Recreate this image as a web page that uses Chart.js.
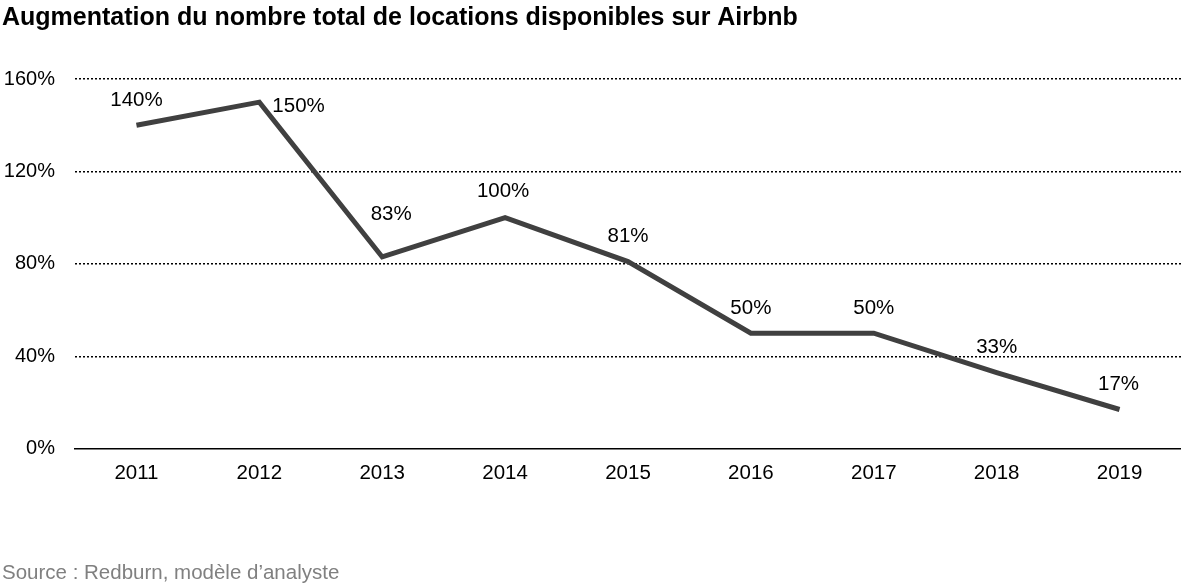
<!DOCTYPE html>
<html>
<head>
<meta charset="utf-8">
<script src="https://cdn.jsdelivr.net/npm/chart.js@4"></script>
<style>
    html, body { margin: 0; padding: 0; background: #fff; }
    #wrap { width: 1181px; height: 586px; }
</style>
</head>
<body>
<div id="wrap"><canvas id="myChart" width="1181" height="586"></canvas></div>
<script>
const years = ['2011', '2012', '2013', '2014', '2015', '2016', '2017', '2018', '2019']
const growth = [140, 150, 83, 100, 81, 50, 50, 33, 17]
const yTicks = [0, 40, 80, 120, 160]
const titleText = 'Augmentation du nombre total de locations disponibles sur Airbnb'
const sourceText = 'Source : Redburn, modèle d’analyste'

// where each value label sits relative to its point: [dx, dy, align]
const labelPlace = [
    [0, -25, 'center'],
    [13, 4, 'left'],
    [9, -43, 'center'],
    [-2, -26, 'center'],
    [0, -25, 'center'],
    [0, -25, 'center'],
    [0, -25, 'center'],
    [0, -25, 'center'],
    [-1, -25, 'center'],
]

const font = "'Liberation Sans', Arial, sans-serif"
const ctx = document.getElementById('myChart')

const valueLabels = {
    id: 'valueLabels',
    afterDatasetsDraw(chart) {
        const c = chart.ctx
        const meta = chart.getDatasetMeta(0)
        c.save()
        c.font = `20.5px ${font}`
        c.fillStyle = '#000'
        c.textBaseline = 'middle'
        meta.data.forEach((pt, i) => {
            const p = labelPlace[i]
            c.textAlign = p[2]
            c.fillText(growth[i] + '%', pt.x + p[0], pt.y + p[1])
        })
        c.restore()
    }
}

const config = {
    type: 'line',
    data: {
        labels: years,
        datasets: [
            {
                label: 'Croissance',
                data: growth,
                borderColor: '#404040',
                borderWidth: 5,
                pointRadius: 0,
                tension: 0,
                fill: false,
            },
        ],
    },
    options: {
        responsive: false,
        animation: false,
        layout: { padding: { left: 2, right: 0, top: 0, bottom: 0 } },
        plugins: {
            legend: { display: false },
            tooltip: { enabled: false },
            title: {
                display: true,
                text: titleText,
                align: 'start',
                color: '#000',
                font: { family: font, size: 25, weight: 'bold' },
                padding: { top: 3, bottom: 46 },
            },
            subtitle: {
                display: true,
                text: sourceText,
                position: 'bottom',
                align: 'start',
                color: '#808080',
                font: { family: font, size: 20.5 },
                padding: { top: 64, bottom: 0 },
            },
        },
        scales: {
            x: {
                offset: true,
                grid: { display: false, drawTicks: false },
                border: { display: true, color: '#000', width: 1.5 },
                ticks: {
                    color: '#000',
                    font: { family: font, size: 20.5 },
                    padding: 12,
                },
            },
            y: {
                min: 0,
                max: 160,
                afterBuildTicks: (axis) => {
                    axis.ticks = yTicks.map((v) => ({ value: v }))
                },
                afterFit: (axis) => {
                    axis.width = 73
                },
                border: { display: false, dash: [2, 2] },
                grid: {
                    drawTicks: false,
                    lineWidth: 1.5,
                    color: (c) => (c.tick && c.tick.value === 0 ? 'rgba(0,0,0,0)' : '#000'),
                },
                ticks: {
                    color: '#000',
                    font: { family: font, size: 20 },
                    padding: 20,
                    callback: (v) => v + '%',
                },
            },
        },
    },
    plugins: [valueLabels],
}

const myChart = new Chart(ctx, config)
</script>
</body>
</html>
